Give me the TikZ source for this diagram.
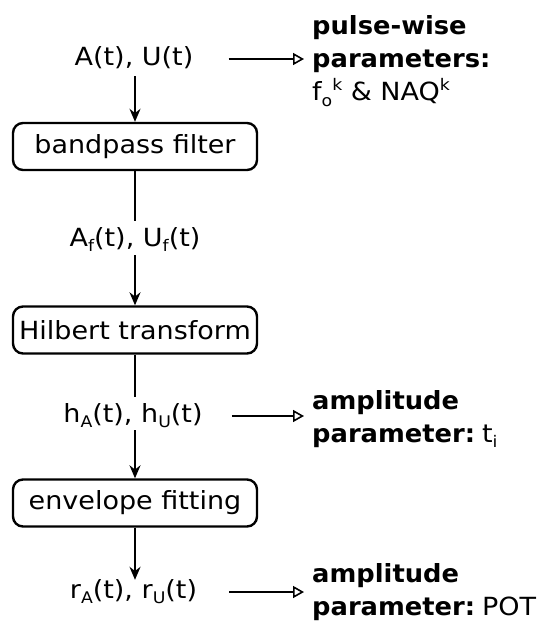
\documentclass[tikz,border=0pt]{standalone}
\usepackage{fontspec}
\setmainfont[FakeStretch=1.08]{DejaVu Sans}
\newfontfamily\pbold[FakeStretch=1.03]{DejaVu Sans Bold}
\usetikzlibrary{arrows.meta}
\newcommand\lsub[1]{\raisebox{-0.22em}{\fontsize{16}{16}\selectfont #1}}
\newcommand\lsup[1]{\raisebox{0.42em}{\fontsize{16}{16}\selectfont #1}}
\newcommand\hd[1]{{\pbold #1}}
\begin{document}
\begin{tikzpicture}[x=1pt,y=-1pt, font=\fontsize{25}{33}\selectfont,
  box/.style={draw, line width=2.4pt, rounded corners=10pt, minimum width=244pt, minimum height=47pt, inner sep=0pt},
  lab/.style={inner sep=0pt, text height=18pt, text depth=6pt},
  flow/.style={line width=1.8pt, -{Stealth[length=13pt,width=11pt]}},
  plain/.style={line width=1.8pt},
  outarrow/.style={line width=1.8pt, -{Triangle[open,length=11pt,width=12pt,line width=1.6pt]}},
  param/.style={align=left, inner sep=0pt, anchor=west}]
\useasboundingbox (0,0) rectangle (539,624);

\node[lab, anchor=base] (l1) at (134,65) {A(t), U(t)};
\node[box] (b1) at (135,146.5) {bandpass filter};
\node[lab, anchor=base] (l2) at (135,246) {A\lsub{f}(t), U\lsub{f}(t)};
\node[box] (b2) at (135,330) {Hilbert transform};
\node[lab, anchor=base] (l3) at (133,422) {h\lsub{A}(t), h\lsub{U}(t)};
\node[box] (b3) at (135,503) {envelope fitting};
\node[lab, anchor=base] (l4) at (133.5,598) {r\lsub{A}(t), r\lsub{U}(t)};

\draw[flow] ([yshift=-5pt]b1.north |- l1.south) -- (b1.north);
\draw[plain] (b1.south) -- ([yshift=7pt]b1.south |- l2.north);
\draw[flow] ([yshift=-3pt]b2.north |- l2.south) -- (b2.north);
\draw[plain] (b2.south) -- ([yshift=7pt]b2.south |- l3.north);
\draw[flow] ([yshift=-2pt]b3.north |- l3.south) -- (b3.north);
\draw[flow] (b3.south) -- (b3.south |- l4.north);

\node[param] (p1) at (312,61) {\hd{pulse-wise}\\\hd{parameters:}\\f\lsub{o}\lsup{k} \& NAQ\lsup{k}};
\node[param] (p2) at (312,419) {\hd{amplitude}\\\hd{parameter:}\hspace{7pt}t\lsub{i}};
\node[param] (p3) at (312,592) {\hd{amplitude}\\\hd{parameter:}\hspace{7pt}POT};

\draw[outarrow] ([xshift=35pt]l1.east) -- ([xshift=-8pt]l1.east -| p1.west);
\draw[outarrow] ([xshift=29pt]l3.east) -- ([xshift=-8pt]l3.east -| p2.west);
\draw[outarrow] ([xshift=32pt]l4.east) -- ([xshift=-8pt]l4.east -| p3.west);
\end{tikzpicture}
\end{document}
